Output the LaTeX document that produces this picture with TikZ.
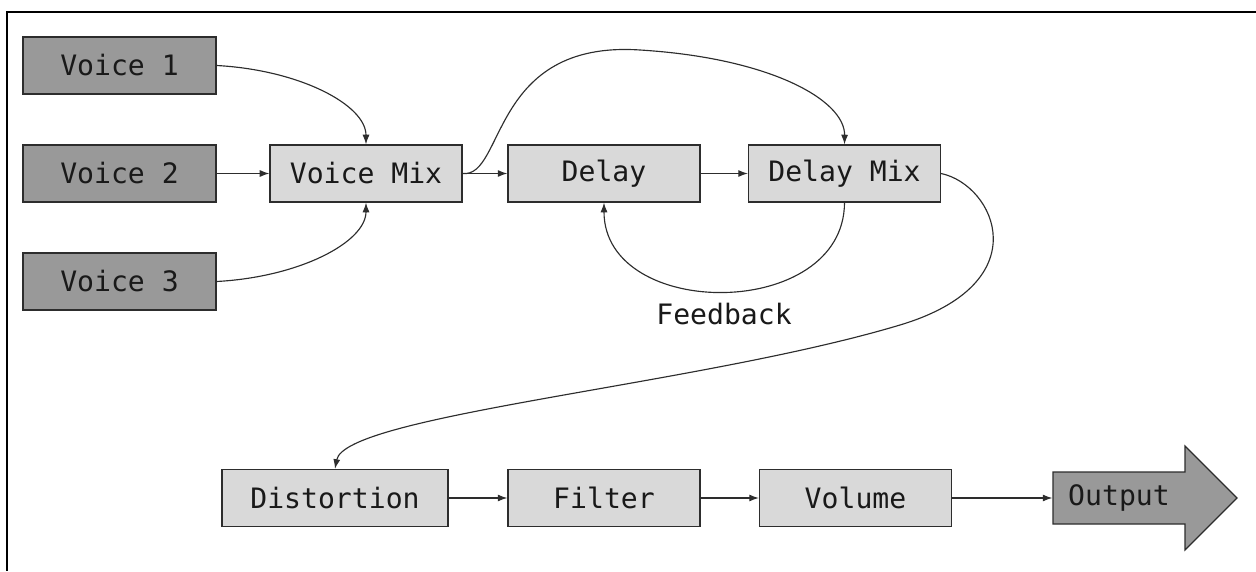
\documentclass[tikz,border=0pt]{standalone}
\usepackage{fontspec}
\newfontfamily\monofont{DejaVu Sans Mono}
\usetikzlibrary{arrows.meta}
\definecolor{darkbox}{RGB}{153,153,153}
\definecolor{lightbox}{RGB}{217,217,217}
\definecolor{edgegray}{RGB}{45,45,45}
\tikzset{
	voice/.style={draw=edgegray,fill=darkbox,line width=0.7pt,minimum width=3.86cm,minimum height=1.14cm,inner sep=0pt,text=black!90,font=\monofont\fontsize{16}{19}\selectfont},
	stage/.style={voice,fill=lightbox,minimum width=3.84cm},
	widestage/.style={stage,minimum width=4.52cm},
	link/.style={draw=edgegray,line width=0.65pt,-{Latex[length=5.5pt,width=4pt]}}
}
\begin{document}
\begin{tikzpicture}[x=0.02cm,y=-0.02cm]
		\useasboundingbox (0,0) rectangle (1256,571);
		\draw[line width=1.1pt] (1256,12) -- (7,12) -- (7,571);

		\node[voice] (v1) at (119.5,65.5) {Voice 1};
		\node[voice] (v2) at (119.5,173.5) {Voice 2};
		\node[voice] (v3) at (119.5,281.5) {Voice 3};
		\node[stage] (vmix) at (366,173.5) {Voice Mix};
		\node[stage] (delay) at (604,173.5) {Delay};
		\node[stage] (dmix) at (844.5,173.5) {Delay Mix};
		\node[widestage] (dist) at (335,498) {Distortion};
		\node[stage] (filter) at (604,498) {Filter};
		\node[stage] (vol) at (855.5,498) {Volume};
		\filldraw[draw=edgegray,fill=darkbox,line width=0.7pt] (1053,472) -- (1185,472) -- (1185,446) -- (1237,498) -- (1185,550) -- (1185,524) -- (1053,524) -- cycle;
		\node[voice,draw=none,fill=none,minimum width=2.64cm,minimum height=1.04cm] (out) at (1119,498) {Output};
		\coordinate (loop) at (900,325);

		\draw[link] (v1.east) .. controls (300,70) and (366,105) .. (vmix.north);
		\draw[link] (v2) -- (vmix);
		\draw[link] (v3.east) .. controls (300,277) and (366,242) .. (vmix.south);
		\draw[link] (vmix) -- (delay);
		\draw[link] (vmix.east) .. controls (505,178) and (490,40) .. (640,50) .. controls (770,58) and (845,100) .. (dmix.north);
		\draw[link] (delay) -- (dmix);
		\draw[link] (dmix.south) .. controls (844,321) and (604,321) .. node[below=0.22cm,inner sep=0pt,font=\monofont\fontsize{16}{19}\selectfont,text=black!90] (fb) {Feedback} (delay.south);
		\draw[link] (dmix.east) .. controls (995,185) and (1040,283) .. (loop) .. controls (700,385) and (345,415) .. (dist.north);
		\draw[link] (dist) -- (filter);
		\draw[link] (filter) -- (vol);
		\draw[link] (vol) -- (out);
	\end{tikzpicture}
\end{document}
